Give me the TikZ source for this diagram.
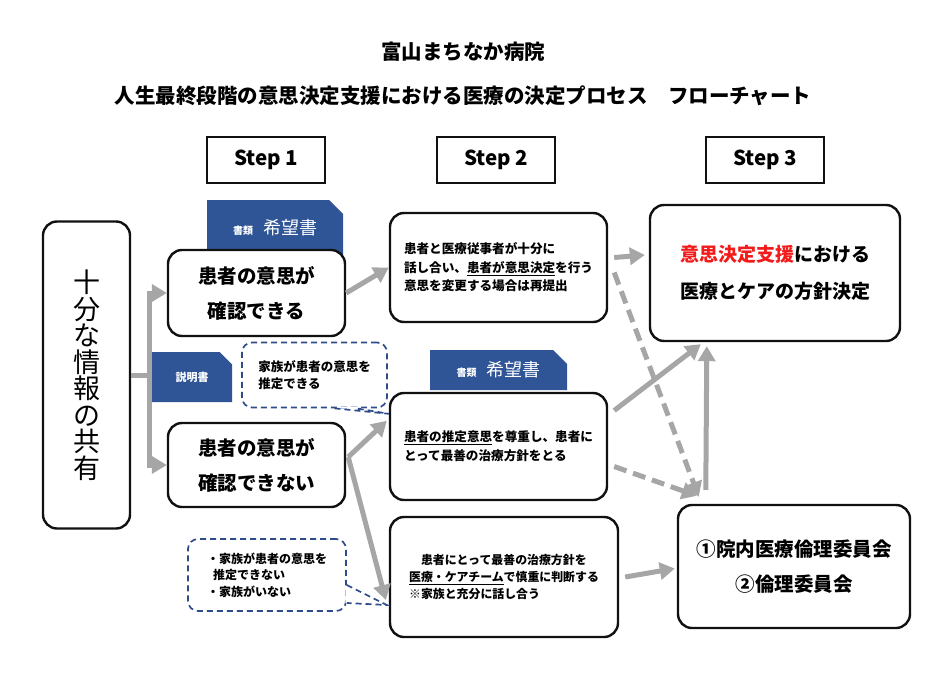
\documentclass[tikz,border=0pt]{standalone}
\usepackage{fontspec}
\setmainfont{Noto Sans CJK JP}
\usepackage{tikz}
\usetikzlibrary{arrows.meta,positioning,shapes.misc,calc}
\definecolor{ink}{HTML}{111111}
\definecolor{navy}{HTML}{2F5597}
\definecolor{dashblue}{HTML}{2E4C8A}
\definecolor{arrowgrey}{HTML}{A6A6A6}
\definecolor{alert}{HTML}{F21B1B}
\tikzset{
  card/.style={draw=ink,fill=white,rounded corners=14pt,line width=2.4pt,
               inner sep=0pt,align=center},
  stepbox/.style={draw=ink,line width=1.6pt,minimum width=118pt,
                  minimum height=46pt,font=\fontsize{20.5}{24}\selectfont\bfseries},
  tab/.style={chamfered rectangle,chamfered rectangle corners=north east,
              chamfered rectangle sep=7pt,fill=navy,text=white,inner sep=0pt},
  callout/.style={draw=dashblue,dash pattern=on 6pt off 4pt,line width=1.7pt,
                  rounded corners=10pt,fill=white,align=left,inner sep=0pt},
  tailline/.style={draw=dashblue,dash pattern=on 6pt off 4pt,line width=1.7pt},
  arrowgray/.style={draw=arrowgrey,line width=5pt,
                    -{Triangle[length=15pt,width=17pt]}},
  arrowdash/.style={arrowgray,dash pattern=on 13pt off 7pt},
}
\begin{document}
\begin{tikzpicture}[x=1pt,y=-1pt]
  \useasboundingbox (0,0) rectangle (926,680);
  % title
  \node[font=\fontsize{20.5}{24}\selectfont\bfseries](title1)at(463,52)
    {富山まちなか病院};
  \node[font=\fontsize{20.5}{24}\selectfont\bfseries](title2)at(463,96)
    {人生最終段階の意思決定支援における医療の決定プロセス　フローチャート};
  \node[stepbox](step1)at(266,160){Step 1};
  \node[stepbox](step2)at(496,160){Step 2};
  \node[stepbox](step3)at(765,160){Step 3};
  % document tabs (behind the cards)
  \node[tab,minimum width=136pt,minimum height=56pt](tabA)at(275,228)
    {{\fontsize{10}{12}\selectfont\bfseries 書類}\hspace{10pt}%
     {\fontsize{18}{20}\selectfont 希望書}};
  \node[tab,minimum width=137pt,minimum height=40pt](tabB)at(498.5,370)
    {{\fontsize{10}{12}\selectfont\bfseries 書類}\hspace{10pt}%
     {\fontsize{18}{20}\selectfont 希望書}};
  \node[tab,minimum width=80pt,minimum height=50pt,
        font=\fontsize{11}{13}\selectfont\bfseries](tabC)at(192,377){説明書};
  % step 1
  \node[card,minimum width=87pt,minimum height=307pt,
        font=\fontsize{27}{26.5}\selectfont](share)at(86.5,375)
    {十\\分\\な\\情\\報\\の\\共\\有};
  \node[card,minimum width=177pt,minimum height=86pt,
        font=\fontsize{19.5}{35}\selectfont\bfseries](knownA)at(256.5,293)
    {患者の意思が\\確認できる};
  \node[card,minimum width=177pt,minimum height=84pt,
        font=\fontsize{19.5}{35}\selectfont\bfseries](knownB)at(256.5,465)
    {患者の意思が\\確認できない};
  % step 2
  \node[card,align=left,minimum width=217pt,minimum height=109pt,
        font=\fontsize{12.6}{18.5}\selectfont\bfseries](talk)at(498.5,267.5)
    {患者と医療従事者が十分に\\
     話し合い、\underline{患者が意思決定}を行う\\
     意思を変更する場合は再提出};
  \node[card,align=left,minimum width=217pt,minimum height=107pt,
        font=\fontsize{12.6}{19}\selectfont\bfseries](presume)at(498.5,446.5)
    {\underline{患者の推定意思}を尊重し、患者に\\
     とって最善の治療方針をとる};
  \node[card,align=left,minimum width=228pt,minimum height=120pt,
        font=\fontsize{11.9}{17}\selectfont\bfseries](team)at(504,577)
    {\hspace*{1em}患者にとって最善の治療方針を\\
     \underline{医療・ケアチーム}で慎重に判断する\\
     ※家族と充分に話し合う};
  % step 3
  \node[card,minimum width=250pt,minimum height=136pt,
        font=\fontsize{19}{37}\selectfont\bfseries](policy)at(775,273)
    {\textcolor{alert}{意思決定支援}における\\医療とケアの方針決定};
  \node[card,minimum width=232pt,minimum height=123pt,
        font=\fontsize{19.5}{35}\selectfont\bfseries](ethics)at(794,566.5)
    {①院内医療倫理委員会\\②倫理委員会};
  % callouts
  \node[callout,minimum width=145pt,minimum height=65pt,
        font=\fontsize{12.5}{17}\selectfont\bfseries](family)at(314.5,375)
    {家族が患者の意思を\\推定できる};
  \node[callout,minimum width=158pt,minimum height=72pt,
        font=\fontsize{12}{16.5}\selectfont\bfseries](nofamily)at(267,575)
    {・家族が患者の意思を\\\hspace*{0.5em}推定できない\\・家族がいない};
  \coordinate(tipA)at($(presume.north west)+(0,22)$);
  \coordinate(tipB)at($(team.west)+(-2,28)$);
  \fill[white]($(family.south)+(20,-1.5)$)--(tipA)--($(family.south)+(42,-1.5)$)--cycle;
  \draw[tailline]($(family.south)+(20,0)$)--(tipA)--($(family.south)+(42,0)$);
  \fill[white]($(nofamily.east)+(-1.5,10)$)--(tipB)--($(nofamily.east)+(-1.5,28)$)--cycle;
  \draw[tailline]($(nofamily.east)+(0,10)$)--(tipB)--($(nofamily.east)+(0,28)$);
  % arrows
  \draw[arrowgray](share.east)--++(18,0)|-(knownA.west);
  \draw[arrowgray](share.east)--++(18,0)|-(knownB.west);
  \draw[arrowgray](knownA.east)--(talk.west);
  \coordinate(bOut)at($(knownB.east)+(2,-8)$);
  \draw[arrowgray](bOut)--($(presume.north west)+(-2,29)$);
  \draw[arrowgray](bOut)--($(team.west)+(-3,23)$);
  \draw[arrowgray]($(talk.east)+(6,-10)$)--($(policy.west)+(-4,-18)$);
  \draw[arrowdash]($(talk.east)+(6,5)$)--($(ethics.north west)+(22,-7)$);
  \draw[arrowgray]($(presume.east)+(6,-36)$)--($(policy.south west)+(52,2)$);
  \draw[arrowdash]($(presume.east)+(6,20)$)--($(ethics.north west)+(20,-8)$);
  \draw[arrowgray]($(ethics.north west)+(29,-14)$)--($(policy.south west)+(58,4)$);
  \draw[arrowgray]($(team.east)+(6,0)$)--($(ethics.west)+(-2,2)$);
\end{tikzpicture}
\end{document}
